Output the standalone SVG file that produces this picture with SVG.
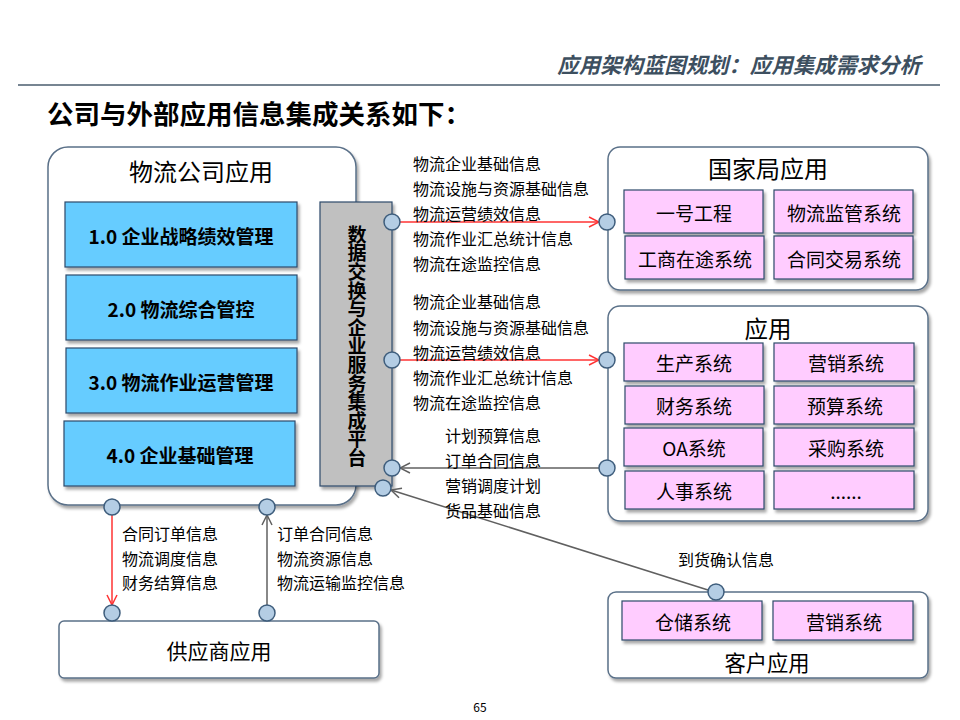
<svg xmlns="http://www.w3.org/2000/svg" width="960" height="720" viewBox="0 0 960 720">
<defs>
<filter id="sh" x="-10%" y="-10%" width="125%" height="130%">
<feDropShadow dx="2" dy="3" stdDeviation="1.5" flood-color="#000" flood-opacity="0.35"/>
</filter>
<marker id="ar" viewBox="0 0 12 12" refX="11" refY="6" markerWidth="12" markerHeight="12" markerUnits="userSpaceOnUse" orient="auto">
<path d="M1,1 L11,6 L1,11" fill="none" stroke="#ff3333" stroke-width="1.5"/>
</marker>
<marker id="ag" viewBox="0 0 12 12" refX="11" refY="6" markerWidth="12" markerHeight="12" markerUnits="userSpaceOnUse" orient="auto">
<path d="M1,1 L11,6 L1,11" fill="none" stroke="#606060" stroke-width="1.5"/>
</marker>
</defs>
<style>
text{font-family:"Noto Sans CJK SC","Noto Sans",sans-serif;fill:#000}
.ct{text-anchor:middle;dominant-baseline:central}
.cont{fill:#fff;stroke:#5a7088;stroke-width:1.5}
.blue{fill:#66ccff;stroke:#2e4a6a;stroke-width:1.2}
.pink{fill:#ffccff;stroke:#2e4a6a;stroke-width:1.2}
.bt{font-size:19px;font-weight:bold}
.pt{font-size:19px}
.lbl{font-size:16px;dominant-baseline:central}
.dot{fill:#b4cde4;stroke:#3e5d7c;stroke-width:1.5}
.red{stroke:#ff3333;stroke-width:1.5;fill:none}
.gry{stroke:#606060;stroke-width:1.5;fill:none}
</style>
<rect width="960" height="720" fill="#fff"/>
<text x="921" y="63" style="font-size:21.4px;font-weight:bold;font-style:italic;fill:#3d4f5f;text-anchor:end;dominant-baseline:central">应用架构蓝图规划：应用集成需求分析</text>
<line x1="18" y1="85" x2="940" y2="85" stroke="#4a5c6e" stroke-width="1.5"/>
<text x="47" y="112" style="font-size:26.5px;font-weight:bold;dominant-baseline:central">公司与外部应用信息集成关系如下：</text>

<g id="company">
<rect class="cont" x="48" y="147" width="308" height="358" rx="20" filter="url(#sh)"/>
<text class="ct" x="201" y="170" style="font-size:24px">物流公司应用</text>
</g>
<g id="m1"><rect class="blue" x="65" y="202" width="232" height="65" filter="url(#sh)"/><text class="ct bt" x="181" y="235">1.0 企业战略绩效管理</text></g>
<g id="m2"><rect class="blue" x="66" y="275" width="231" height="65" filter="url(#sh)"/><text class="ct bt" x="181" y="308">2.0 物流综合管控</text></g>
<g id="m3"><rect class="blue" x="66" y="348" width="231" height="65" filter="url(#sh)"/><text class="ct bt" x="181" y="381">3.0 物流作业运营管理</text></g>
<g id="m4"><rect class="blue" x="64" y="421" width="231" height="65" filter="url(#sh)"/><text class="ct bt" x="180" y="454">4.0 企业基础管理</text></g>

<g id="platform">
<rect x="320" y="202" width="72" height="284" fill="#c0c0c0" stroke="#2e4a6a" stroke-width="1.2" filter="url(#sh)"/>
<text x="357" y="346" style="writing-mode:vertical-rl;text-anchor:middle;font-size:19px;font-weight:bold;letter-spacing:-0.4px">数据交换与企业服务集成平台</text>
</g>

<g id="national">
<rect class="cont" x="608" y="147" width="320" height="143" rx="12" filter="url(#sh)"/>
<text class="ct" x="768" y="167" style="font-size:24px">国家局应用</text>
<rect class="pink" x="624" y="190" width="139" height="43" filter="url(#sh)"/><text class="ct pt" x="694" y="212">一号工程</text>
<rect class="pink" x="774" y="190" width="139" height="43" filter="url(#sh)"/><text class="ct pt" x="844" y="212">物流监管系统</text>
<rect class="pink" x="625" y="236" width="139" height="43" filter="url(#sh)"/><text class="ct pt" x="695" y="258">工商在途系统</text>
<rect class="pink" x="774" y="236" width="139" height="43" filter="url(#sh)"/><text class="ct pt" x="844" y="258">合同交易系统</text>
</g>

<g id="apps">
<rect class="cont" x="608" y="306" width="320" height="215" rx="12" filter="url(#sh)"/>
<text class="ct" x="768" y="328" style="font-size:23.5px">应用</text>
<rect class="pink" x="624" y="343" width="139" height="38" filter="url(#sh)"/><text class="ct pt" x="694" y="362">生产系统</text>
<rect class="pink" x="774" y="343" width="140" height="38" filter="url(#sh)"/><text class="ct pt" x="846" y="362">营销系统</text>
<rect class="pink" x="625" y="386" width="139" height="38" filter="url(#sh)"/><text class="ct pt" x="694" y="405">财务系统</text>
<rect class="pink" x="774" y="386" width="140" height="38" filter="url(#sh)"/><text class="ct pt" x="845" y="405">预算系统</text>
<rect class="pink" x="624" y="428" width="139" height="38" filter="url(#sh)"/><text class="ct pt" x="694" y="447">OA系统</text>
<rect class="pink" x="774" y="428" width="140" height="38" filter="url(#sh)"/><text class="ct pt" x="846" y="447">采购系统</text>
<rect class="pink" x="625" y="471" width="139" height="38" filter="url(#sh)"/><text class="ct pt" x="694" y="490">人事系统</text>
<rect class="pink" x="774" y="471" width="140" height="38" filter="url(#sh)"/><text class="ct pt" x="846" y="490">......</text>
</g>

<g id="customer">
<rect class="cont" x="608" y="592" width="320" height="86" rx="8" filter="url(#sh)"/>
<rect class="pink" x="622" y="601" width="140" height="39" filter="url(#sh)"/><text class="ct pt" x="693" y="621">仓储系统</text>
<rect class="pink" x="773" y="601" width="140" height="39" filter="url(#sh)"/><text class="ct pt" x="844" y="621">营销系统</text>
<text class="ct" x="767" y="661" style="font-size:21.3px">客户应用</text>
</g>

<g id="supplier">
<rect class="cont" x="59" y="621" width="320" height="57" rx="5" filter="url(#sh)"/>
<text class="ct" x="219" y="650" style="font-size:21px">供应商应用</text>
</g>

<g id="connectors">
<line class="red" x1="400" y1="222" x2="599" y2="222" marker-end="url(#ar)"/>
<line class="red" x1="400" y1="360" x2="599" y2="360" marker-end="url(#ar)"/>
<line class="gry" x1="599" y1="468" x2="400" y2="468" marker-end="url(#ag)"/>
<line class="gry" x1="708" y1="590" x2="391" y2="490" marker-end="url(#ag)"/>
<line class="red" x1="112" y1="515" x2="112" y2="605" marker-end="url(#ar)"/>
<line class="gry" x1="267" y1="605" x2="267" y2="515" marker-end="url(#ag)"/>
<circle class="dot" cx="392" cy="222" r="8"/>
<circle class="dot" cx="607" cy="222" r="8"/>
<circle class="dot" cx="392" cy="360" r="8"/>
<circle class="dot" cx="607" cy="360" r="8"/>
<circle class="dot" cx="392" cy="468" r="8"/>
<circle class="dot" cx="607" cy="468" r="8"/>
<circle class="dot" cx="383" cy="488" r="8"/>
<circle class="dot" cx="716" cy="592" r="8"/>
<circle class="dot" cx="112" cy="507" r="8"/>
<circle class="dot" cx="267" cy="507" r="8"/>
<circle class="dot" cx="112" cy="613" r="8"/>
<circle class="dot" cx="267" cy="613" r="8"/>
<text class="lbl" x="413" y="163">物流企业基础信息</text>
<text class="lbl" x="413" y="188">物流设施与资源基础信息</text>
<text class="lbl" x="413" y="213">物流运营绩效信息</text>
<text class="lbl" x="413" y="238">物流作业汇总统计信息</text>
<text class="lbl" x="413" y="263">物流在途监控信息</text>
<text class="lbl" x="413" y="301">物流企业基础信息</text>
<text class="lbl" x="413" y="327">物流设施与资源基础信息</text>
<text class="lbl" x="413" y="352">物流运营绩效信息</text>
<text class="lbl" x="413" y="377">物流作业汇总统计信息</text>
<text class="lbl" x="413" y="402">物流在途监控信息</text>
<text class="lbl" x="445" y="435">计划预算信息</text>
<text class="lbl" x="445" y="460">订单合同信息</text>
<text class="lbl" x="445" y="485">营销调度计划</text>
<text class="lbl" x="445" y="510">货品基础信息</text>
<text class="lbl" x="678" y="559">到货确认信息</text>
<text class="lbl" x="122" y="533">合同订单信息</text>
<text class="lbl" x="122" y="558">物流调度信息</text>
<text class="lbl" x="122" y="582">财务结算信息</text>
<text class="lbl" x="277" y="533">订单合同信息</text>
<text class="lbl" x="277" y="558">物流资源信息</text>
<text class="lbl" x="277" y="582">物流运输监控信息</text>
</g>
<text class="ct" x="480" y="706" style="font-size:12px">65</text>
</svg>
